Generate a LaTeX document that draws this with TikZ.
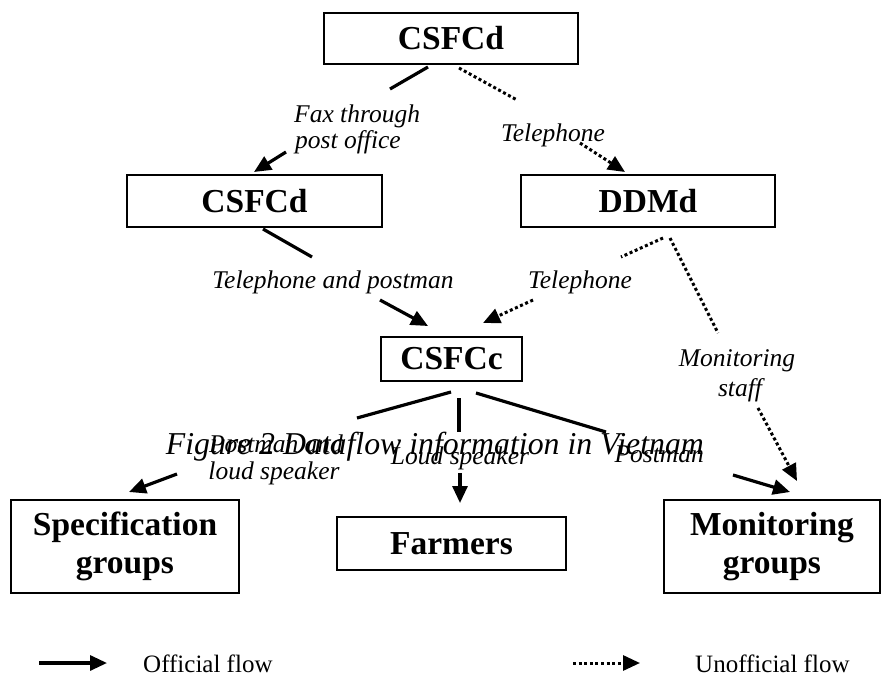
\documentclass[tikz,border=0pt]{standalone}
\usepackage{fontspec}
\setmainfont{Liberation Serif}
\usetikzlibrary{arrows.meta}
\begin{document}
\begin{tikzpicture}[x=1pt,y=-1pt,
  box/.style={draw,line width=1.5pt,inner sep=0pt,align=center,
    font=\fontsize{33.5}{38}\selectfont\bfseries},
  lbl/.style={inner sep=0pt,anchor=base,font=\fontsize{25.5}{29}\selectfont\itshape},
  legtext/.style={inner sep=0pt,anchor=base west,font=\fontsize{25}{29}\selectfont},
  solidln/.style={line width=3.2pt},
  dotln/.style={line width=3pt,dash pattern=on 3pt off 2.6pt},
  tip/.style={-{Triangle[length=17pt,width=15pt]}},
]
\useasboundingbox (0,0) rectangle (881,680);
% boxes
\node[box,minimum width=254pt,minimum height=51pt] (top) at (451,38.5) {CSFCd};
\node[box,minimum width=255pt,minimum height=52pt] (csfcd) at (254.5,201) {CSFCd};
\node[box,minimum width=254pt,minimum height=52pt] (ddmd) at (648,201) {DDMd};
\node[box,minimum width=141pt,minimum height=44pt] (csfcc) at (451.5,359) {CSFCc};
\node[box,minimum width=228pt,minimum height=93pt] (spec) at (125,546.5) {Specification\\groups};
\node[box,minimum width=229pt,minimum height=53pt] (farm) at (451.5,543.5) {Farmers};
\node[box,minimum width=216pt,minimum height=93pt] (mon) at (772,546.5) {Monitoring\\groups};
% labels
\node[lbl,anchor=base west] (fax1) at (294,122) {Fax through};
\node[lbl,anchor=base west] (fax2) at (295,148) {post office};
\node[lbl] (tel1) at (553,141) {Telephone};
\node[lbl] (tap) at (333,288) {Telephone and postman};
\node[lbl] (tel2) at (580,288) {Telephone};
\node[lbl] (mon1) at (737,366) {Monitoring};
\node[lbl] (mon2) at (740,396) {staff};
\node[inner sep=0pt,anchor=base east,font=\fontsize{31.8}{36}\selectfont\itshape] (cap) at (704,454) {Figure 2 Dataflow information in Vietnam};
\node[lbl] (pa1) at (276,452) {Postman and};
\node[lbl] (pa2) at (274,479) {loud speaker};
\node[lbl] (ls) at (460,464) {Loud speaker};
\node[lbl,anchor=base east] (pm) at (704,462) {Postman};
% coordinates
\coordinate (a1) at (428,67);  \coordinate (a2) at (390,89);
\coordinate (a3) at (286,152); \coordinate (a4) at (254,172);
\coordinate (b1) at (459,68);  \coordinate (b2) at (517,100);
\coordinate (b3) at (580,143); \coordinate (b4) at (625,172);
\coordinate (c1) at (263,229); \coordinate (c2) at (312,257);
\coordinate (c3) at (380,300); \coordinate (c4) at (428,326);
\coordinate (d1) at (663,238); \coordinate (d2) at (621,257);
\coordinate (d3) at (533,300); \coordinate (d4) at (483,323);
\coordinate (e1) at (670,238); \coordinate (e2) at (718,333);
\coordinate (e3) at (758,408); \coordinate (e4) at (797,481);
\coordinate (f1) at (451,392); \coordinate (f2) at (357,418);
\coordinate (f3) at (177,474); \coordinate (f4) at (129,492);
\coordinate (g1) at (459,398); \coordinate (g2) at (459,432);
\coordinate (g3) at (460,473); \coordinate (g4) at (460,503);
\coordinate (h1) at (476,393); \coordinate (h2) at (606,432);
\coordinate (h3) at (733,475); \coordinate (h4) at (790,492);
% connectors
\draw[solidln] (a1) -- (a2);
\draw[solidln,tip] (a3) -- (a4);
\draw[dotln] (b1) -- (b2);
\draw[dotln,tip] (b3) -- (b4);
\draw[solidln] (c1) -- (c2);
\draw[solidln,tip] (c3) -- (c4);
\draw[dotln] (d1) -- (d2);
\draw[dotln,tip] (d3) -- (d4);
\draw[dotln] (e1) -- (e2);
\draw[dotln,tip] (e3) -- (e4);
\draw[solidln] (f1) -- (f2);
\draw[solidln,tip] (f3) -- (f4);
\draw[solidln] (g1) -- (g2);
\draw[solidln,tip] (g3) -- (g4);
\draw[solidln] (h1) -- (h2);
\draw[solidln,tip] (h3) -- (h4);
% legend
\coordinate (l1) at (39,663);  \coordinate (l2) at (107,663);
\coordinate (l3) at (573,663); \coordinate (l4) at (640,663);
\draw[solidln,tip] (l1) -- (l2);
\draw[dotln,tip] (l3) -- (l4);
\node[legtext] (off) at (143,672) {Official flow};
\node[legtext] (unoff) at (695,672) {Unofficial flow};
\end{tikzpicture}
\end{document}
